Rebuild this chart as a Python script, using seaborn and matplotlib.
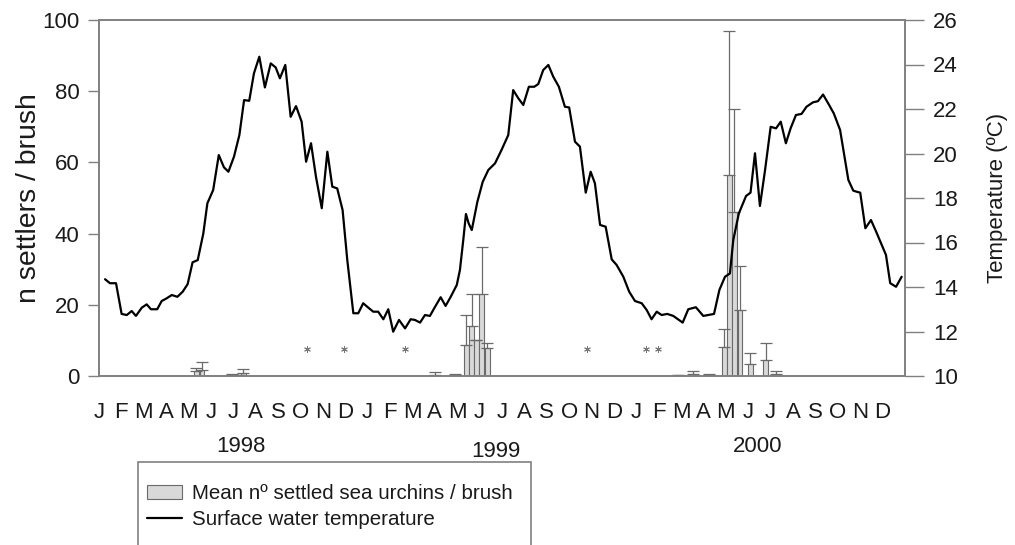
import numpy as np
import matplotlib
matplotlib.use("Agg")
import matplotlib.pyplot as plt
import seaborn as sns
from matplotlib.patches import Rectangle, Patch
from matplotlib.lines import Line2D

# ---------------- data ----------------
month_labels = list("JFMAMJJASOND") * 3
year_labels = ["1998", "1999", "2000"]
year_pos = [6.34, 17.73, 29.43]          # month units (0 = 1 Jan 1998)
year_drop = [0.197, 0.211, 0.197]        # text offsets below axis (axes fraction)

temp_month = [0.27, 0.49, 0.76, 1.01, 1.24, 1.46, 1.65, 1.91, 2.13, 2.32, 2.60, 2.80,
              3.02, 3.25, 3.50, 3.74, 3.96, 4.18, 4.41, 4.66, 4.84, 5.10, 5.35, 5.58,
              5.78, 6.03, 6.27, 6.48, 6.71, 6.92, 7.16, 7.41, 7.67, 7.89, 8.08, 8.32,
              8.56, 8.80, 9.05, 9.25, 9.47, 9.69, 9.95, 10.20, 10.42, 10.64, 10.88, 11.09,
              11.36, 11.58, 11.80, 12.03, 12.25, 12.47, 12.70, 12.92, 13.14, 13.40, 13.67, 13.92,
              14.11, 14.34, 14.56, 14.78, 15.01, 15.26, 15.48, 15.71, 15.98, 16.12, 16.27, 16.39,
              16.51, 16.65, 16.90, 17.14, 17.39, 17.69, 17.98, 18.28, 18.50, 18.73, 18.95, 19.20,
              19.44, 19.62, 19.84, 20.07, 20.29, 20.54, 20.81, 21.00, 21.26, 21.48, 21.74, 21.96,
              22.15, 22.38, 22.63, 22.90, 23.12, 23.42, 23.68, 23.94, 24.24, 24.46, 24.68, 24.91,
              25.13, 25.38, 25.65, 26.07, 26.32, 26.66, 26.99, 27.47, 27.71, 27.96, 28.18, 28.33,
              28.58, 28.90, 29.10, 29.30, 29.52, 29.75, 30.00, 30.24, 30.45, 30.68, 30.89, 31.13,
              31.38, 31.60, 31.89, 32.11, 32.34, 32.60, 32.82, 33.10, 33.32, 33.47, 33.69, 33.85,
              34.00, 34.23, 34.48, 34.71, 34.93, 35.15, 35.34, 35.60, 35.85]
temp_c = [14.35, 14.17, 14.17, 12.79, 12.74, 12.92, 12.70, 13.07, 13.22, 13.00, 13.00, 13.37,
          13.49, 13.64, 13.56, 13.79, 14.13, 15.11, 15.21, 16.41, 17.76, 18.36, 19.93, 19.38,
          19.18, 19.86, 20.83, 22.40, 22.37, 23.60, 24.35, 22.97, 24.05, 23.87, 23.38, 23.98,
          21.65, 22.13, 21.43, 19.63, 20.46, 18.96, 17.54, 20.08, 18.51, 18.43, 17.46, 15.21,
          12.82, 12.82, 13.27, 13.07, 12.89, 12.89, 12.55, 13.00, 11.99, 12.52, 12.14, 12.55,
          12.52, 12.40, 12.74, 12.70, 13.11, 13.54, 13.15, 13.56, 14.09, 14.76, 16.11, 17.28,
          16.86, 16.56, 17.83, 18.73, 19.26, 19.56, 20.16, 20.83, 22.85, 22.48, 22.18, 23.00,
          23.00, 23.12, 23.75, 23.98, 23.45, 23.00, 22.10, 22.07, 20.53, 20.31, 18.24, 19.18,
          18.66, 16.79, 16.71, 15.24, 14.99, 14.46, 13.79, 13.37, 13.27, 12.97, 12.55, 12.89,
          12.74, 12.79, 12.70, 12.40, 13.00, 13.09, 12.70, 12.79, 13.87, 14.46, 14.61, 16.11,
          17.31, 18.09, 18.24, 20.01, 17.64, 19.26, 21.20, 21.13, 21.43, 20.46, 21.13, 21.73,
          21.78, 22.10, 22.30, 22.35, 22.65, 22.20, 21.80, 21.06, 19.71, 18.81, 18.33, 18.28,
          18.24, 16.64, 17.01, 16.49, 15.96, 15.44, 14.17, 14.01, 14.46]

bar_month = [4.35, 4.60, 5.95, 6.20, 6.45, 15.00, 15.90, 16.41, 16.64, 16.86, 17.10, 17.35,
             25.88, 26.51, 27.24, 27.92, 28.15, 28.38, 28.63, 29.09, 29.77, 30.23]
bar_mean = [1.3, 1.8, 0.3, 0.2, 0.8, 0.4, 0.2, 8.6, 14.0, 10.1, 23.0, 7.8,
            0.3, 0.5, 0.3, 8.2, 56.5, 46.2, 18.5, 3.4, 4.5, 0.5]
bar_err = [1.0, 2.2, 0.2, 0.0, 1.1, 0.8, 0.5, 8.4, 9.0, 0.0, 13.1, 1.6,
           0.1, 1.0, 0.4, 4.9, 40.5, 28.7, 12.4, 3.1, 4.7, 1.0]

missing_month = [9.30, 10.94, 13.67, 21.78, 24.42, 24.95]
missing_level = 7.5

bar_label = "Mean nº settled sea urchins / brush"
line_label = "Surface water temperature"

# ---------------- style ----------------
sns.set_theme(style="white")
plt.rcParams['font.family'] = ['Liberation Sans', 'DejaVu Sans']
TXT = '#1a1a1a'
GREY = '#808080'
BAR_FACE = '#d9d9d9'
BAR_EDGE = '#6a6a6a'

W, H = 1015, 545
fig = plt.figure(figsize=(W / 100, H / 100), dpi=100)
ax = fig.add_axes([99 / W, 1 - 376 / H, (905 - 99) / W, 356 / H])

ax.bar(bar_month, bar_mean, width=0.22, color=BAR_FACE, edgecolor=BAR_EDGE,
       linewidth=0.8, zorder=2)
ax.errorbar(bar_month, bar_mean, yerr=[np.zeros(len(bar_err)), bar_err], fmt='none',
            ecolor=BAR_EDGE, elinewidth=0.9, capsize=4, capthick=0.9, zorder=3)
sns.scatterplot(x=missing_month, y=[missing_level] * len(missing_month), ax=ax,
                marker=(6, 2, 0), s=18, color='#777777', edgecolor='#777777',
                linewidth=0.7, zorder=3, legend=False)

ax.set_xlim(0, 36)
ax.set_ylim(0, 100)
ax.set_yticks(np.arange(0, 101, 20))
ax.set_xticks(np.arange(0, 37))
ax.set_xticklabels(month_labels + [""])
ax.set_ylabel("n settlers / brush", fontsize=20.5, color=TXT, labelpad=0)
ax.yaxis.set_label_coords(-57 / 806, 0.5)
ax.set_xlabel("")
ax.tick_params(axis='x', direction='out', length=7, width=1, color=GREY,
               labelsize=16, labelcolor=TXT, pad=12)
ax.tick_params(axis='y', direction='out', length=8, width=1, color=GREY,
               labelsize=16, labelcolor=TXT, pad=6)
ax.grid(False)

for x, lab, d in zip(year_pos, year_labels, year_drop):
    ax.text(x, -d, lab, transform=ax.get_xaxis_transform(), ha='center', va='center',
            fontsize=16, color=TXT)

ax2 = ax.twinx()
sns.lineplot(x=temp_month, y=temp_c, ax=ax2, color='black', linewidth=1.6, zorder=4)
ax2.set_ylim(10, 26)
ax2.set_yticks(np.arange(10, 27, 2))
ax2.set_ylabel("Temperature (ºC)", fontsize=16, color=TXT, labelpad=0)
ax2.yaxis.set_label_coords(1 + 82 / 806, 0.5)
ax2.tick_params(axis='y', direction='out', length=14, width=1, color=GREY,
                labelsize=16, labelcolor=TXT, pad=6)
ax2.grid(False)

for a in (ax, ax2):
    for s in a.spines.values():
        s.set_color(GREY)
        s.set_linewidth(1.2)
        s.set_visible(True)

handles = [Patch(facecolor=BAR_FACE, edgecolor=BAR_EDGE, linewidth=0.8),
           Line2D([], [], color='black', linewidth=1.6)]
fig.legend(handles, [bar_label, line_label], loc='upper left',
           bbox_to_anchor=(147 / W, 1 - 484 / H), frameon=False, fontsize=14.8,
           handlelength=1.7, handletextpad=0.5, labelspacing=0.35, borderpad=0,
           borderaxespad=0, labelcolor=TXT)
fig.add_artist(Rectangle((138 / W, -0.1), (531 - 138) / W, (1 - 462 / H) + 0.1,
                         transform=fig.transFigure, fill=False, edgecolor=GREY,
                         linewidth=1.2))

fig.savefig("out.png", dpi=100)
